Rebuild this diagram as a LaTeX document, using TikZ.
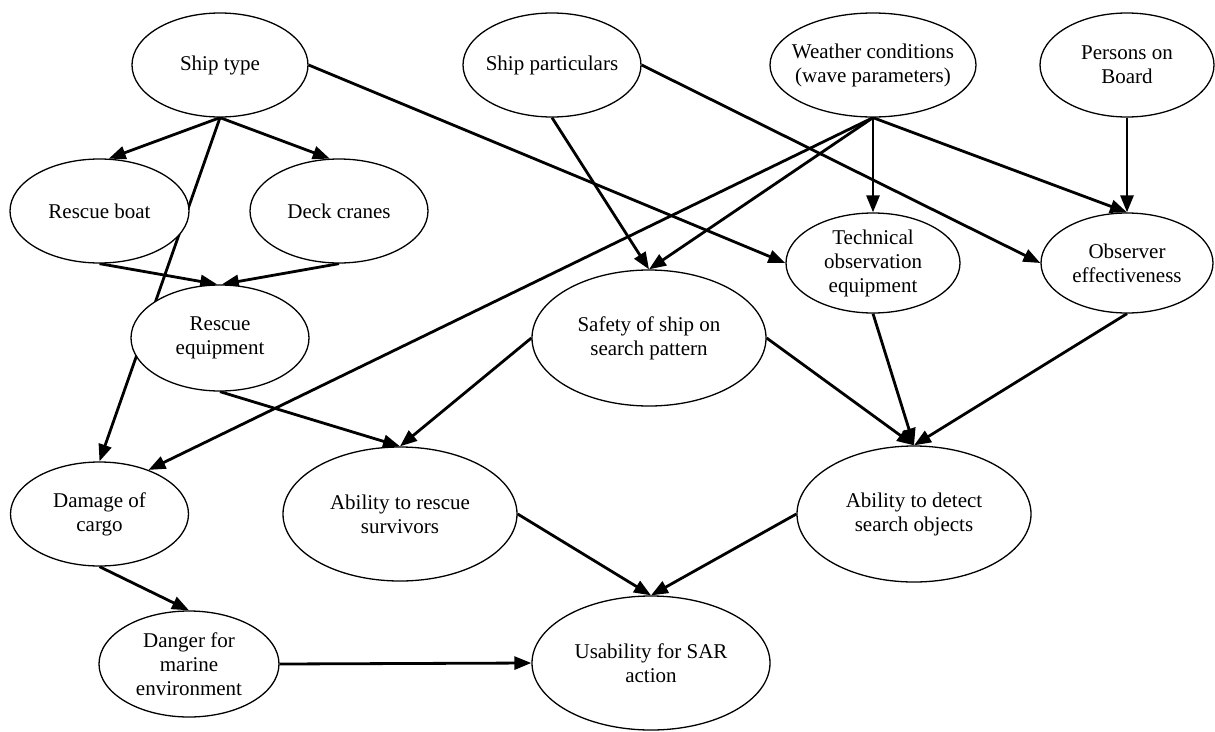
\documentclass[tikz,border=0pt]{standalone}
\usepackage{fontspec}
\setmainfont{Liberation Serif}
\usetikzlibrary{shapes.geometric,arrows.meta,backgrounds}
\tikzset{
  ell/.style={ellipse, draw, line width=1.3pt, fill=white, inner sep=0pt},
  lab/.style={font=\fontsize{21}{24}\selectfont, align=center, inner sep=0pt},
  arr/.style={-{Triangle[length=17pt,width=13pt]}, line width=2.8pt},
}
\begin{document}
\begin{tikzpicture}[x=1pt,y=-1pt]
\useasboundingbox (0,0) rectangle (1215,731);
% nodes
\node[ell, minimum width=176pt, minimum height=104pt, label={[lab]center:Ship type}] (st) at (220,65) {};
\node[ell, minimum width=178pt, minimum height=104pt, label={[lab]center:Ship particulars}] (sp) at (552,65) {};
\node[ell, minimum width=206pt, minimum height=104pt, label={[lab]center:{Weather conditions\\(wave parameters)}}] (wc) at (873,65) {};
\node[ell, minimum width=174pt, minimum height=104pt, label={[lab]center:{Persons on\\Board}}] (pb) at (1127,65) {};
\node[ell, minimum width=179pt, minimum height=104pt, label={[lab]center:Rescue boat}] (rb) at (99.5,211) {};
\node[ell, minimum width=178pt, minimum height=104pt, label={[lab]center:Deck cranes}] (dk) at (339,211) {};
\node[ell, minimum width=174pt, minimum height=100pt, label={[lab]center:{Technical\\observation\\equipment}}] (te) at (873,263) {};
\node[ell, minimum width=172pt, minimum height=100pt, label={[lab]center:{Observer\\effectiveness}}] (ob) at (1127,263) {};
\node[ell, minimum width=178pt, minimum height=106pt, label={[lab]center:{Rescue\\equipment}}] (re) at (220,338) {};
\node[ell, minimum width=234pt, minimum height=136pt, label={[lab]center:{Safety of ship on\\search pattern}}] (ss) at (649,338) {};
\node[ell, minimum width=178pt, minimum height=104pt, label={[lab]center:{Damage of\\cargo}}] (dc) at (99.5,514) {};
\node[ell, minimum width=234pt, minimum height=134pt, label={[lab]center:{Ability to rescue\\survivors}}] (ar) at (400,514) {};
\node[ell, minimum width=234pt, minimum height=136pt, label={[lab]center:{Ability to detect\\search objects}}] (ad) at (914,514) {};
\node[ell, minimum width=180pt, minimum height=106pt, label={[lab]center:{Danger for\\marine\\environment}}] (dg) at (189,664) {};
\node[ell, minimum width=238pt, minimum height=134pt, label={[lab]center:{Usability for SAR\\action}}] (us) at (651,663) {};
% edges
\begin{pgfonlayer}{background}
\fill[white] (0,0) rectangle (1215,731);
\draw[arr] (st.south) -- (rb.80);
\draw[arr] (st.south) -- (dk.100);
\draw[arr] (st.south) -- (dc.north);
\draw[arr] (st.east) -- (te.west);
\draw[arr] (sp.south) -- (ss.north);
\draw[arr] (sp.east) -- (ob.west);
\draw[arr] (wc.south) -- (te.north);
\draw[arr] (wc.south) -- (ob.north);
\draw[arr] (wc.south) -- (ss.north);
\draw[arr] (wc.south) -- (dc.42);
\draw[arr] (pb.south) -- (ob.north);
\draw[arr] (rb.south) -- (re.93);
\draw[arr] (dk.south) -- (re.88);
\draw[arr] (re.south) -- (ar.north);
\draw[arr] (ss.west) -- (ar.north);
\draw[arr] (ss.east) -- (ad.north);
\draw[arr] (te.south) -- (ad.north);
\draw[arr] (ob.south) -- (ad.north);
\draw[arr] (ar.east) -- (us.north);
\draw[arr] (ad.west) -- (us.north);
\draw[arr] (dc.south) -- (dg.north);
\draw[arr] (dg.east) -- (us.west);
\end{pgfonlayer}
\end{tikzpicture}
\end{document}
